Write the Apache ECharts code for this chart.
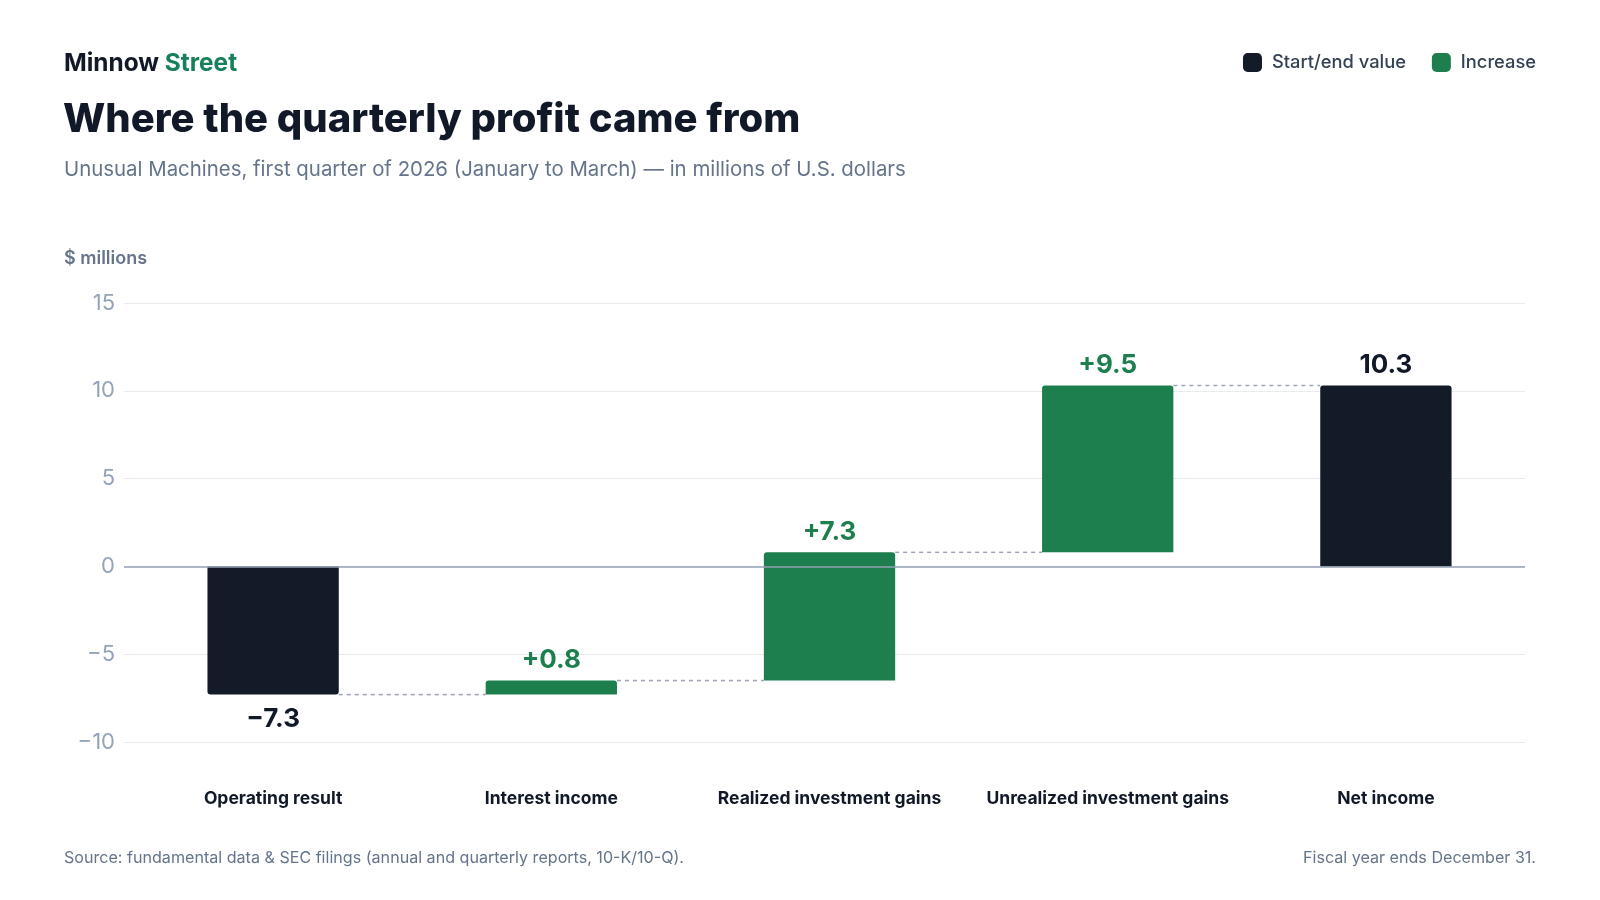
<!DOCTYPE html>
<html lang="en">
<head>
	<meta charset="UTF-8">
	<title>Where the quarterly profit came from</title>
	<script src="https://cdn.jsdelivr.net/npm/echarts@6/dist/echarts.min.js"></script>
	<style>
		* { margin: 0; padding: 0; }
		body { background: #fff; }
		#container { width: 1600px; height: 900px; }
	</style>
</head>
<body>
<div id="container"></div>
<script type="text/javascript">
	var categories = ['Operating result', 'Interest income', 'Realized investment gains', 'Unrealized investment gains', 'Net income'];
	var values = [-7.3, 0.8, 7.3, 9.5, 10.3];
	var kinds = ['total', 'increase', 'increase', 'increase', 'total'];
	var valueLabels = ['\u22127.3', '+0.8', '+7.3', '+9.5', '10.3'];
	var yTicks = [-10, -5, 0, 5, 10, 15];
	var catTicks = [0, 1, 2, 3, 4];

	var FONT = 'Inter, "Noto Sans", sans-serif';
	var DARK = '#131a28';
	var GREEN = '#1d7f4e';
	var BAR = 0.472; // bar width as share of one category step

	// running totals -> floating bar [index, low, high, negative?]
	var totalData = [], increaseData = [], steps = [];
	var run = 0;
	for (var i = 0; i < values.length; i++) {
		var lo, hi;
		if (kinds[i] === 'total') {
			lo = Math.min(0, values[i]);
			hi = Math.max(0, values[i]);
			run = values[i];
		} else {
			lo = run;
			hi = run + values[i];
			run = hi;
		}
		var item = [i, lo, hi, values[i] < 0 ? 1 : 0];
		if (kinds[i] === 'total') totalData.push(item); else increaseData.push(item);
		if (i < values.length - 1) steps.push([i, run]);
	}

	function barRender(color, labelColor) {
		return function (params, api) {
			var idx = api.value(0);
			var p1 = api.coord([idx, api.value(1)]);
			var p2 = api.coord([idx, api.value(2)]);
			var bw = api.size([1, 0])[0] * BAR;
			var neg = api.value(3) === 1;
			var top = Math.min(p1[1], p2[1]), bot = Math.max(p1[1], p2[1]);
			return {
				type: 'group',
				children: [{
					type: 'rect',
					shape: { x: p1[0] - bw / 2, y: top, width: bw, height: bot - top, r: neg ? [0, 0, 3, 3] : [3, 3, 0, 0] },
					style: { fill: color }
				}, {
					type: 'text',
					x: p1[0],
					y: neg ? bot + 12 : top - 7.5,
					style: {
						text: valueLabels[idx],
						fill: labelColor,
						font: 'bold 26px ' + FONT,
						align: 'center',
						verticalAlign: neg ? 'top' : 'bottom'
					}
				}]
			};
		};
	}

	var myChart = echarts.init(document.getElementById('container'));

	var option = {
		backgroundColor: '#fff',
		animation: false,
		textStyle: { fontFamily: FONT },
		title: [{
			left: 59, top: 47,
			text: 'Minnow {g|Street}',
			textStyle: {
				fontSize: 24.4, fontWeight: 'bold', color: '#111827', fontFamily: FONT,
				rich: { g: { fontSize: 24.4, fontWeight: 'bold', color: '#17805a', fontFamily: FONT } }
			}
		}, {
			left: 58, top: 95,
			text: 'Where the quarterly profit came from',
			textStyle: { fontSize: 40, fontWeight: 800, color: '#111827', fontFamily: FONT }
		}, {
			left: 59, top: 155,
			text: 'Unusual Machines, first quarter of 2026 (January to March) \u2014 in millions of U.S. dollars',
			textStyle: { fontSize: 20.4, fontWeight: 'normal', color: '#64748b', fontFamily: FONT }
		}, {
			left: 59, top: 245,
			text: '$ millions',
			textStyle: { fontSize: 18, fontWeight: 600, color: '#64748b', fontFamily: FONT }
		}, {
			left: 59, top: 845,
			text: 'Source: fundamental data & SEC filings (annual and quarterly reports, 10-K/10-Q).',
			textStyle: { fontSize: 16.1, fontWeight: 'normal', color: '#64748b', fontFamily: FONT }
		}, {
			right: 59, top: 845,
			text: 'Fiscal year ends December 31.',
			textStyle: { fontSize: 16.1, fontWeight: 'normal', color: '#64748b', fontFamily: FONT }
		}],
		legend: {
			right: 59, top: 48,
			icon: 'roundRect',
			itemWidth: 19, itemHeight: 19,
			itemGap: 26,
			textStyle: { fontSize: 18.3, fontWeight: 500, color: '#334155', fontFamily: FONT, padding: [0, 0, 0, 5] },
			data: ['Start/end value', 'Increase'],
			selectedMode: false
		},
		grid: { left: 124, right: 75, top: 303, bottom: 158 },
		// value axis over category indices so the gridlines reach a little past the first band
		xAxis: {
			type: 'value',
			min: -0.536, max: 4.5,
			axisLine: { show: false },
			axisTick: { show: false },
			splitLine: { show: false },
			axisLabel: {
				customValues: catTicks,
				margin: 48,
				fontSize: 17.5, fontWeight: 'bold', color: '#111827', fontFamily: FONT,
				formatter: function (v) { return categories[Math.round(v)] || ''; }
			}
		},
		yAxis: {
			type: 'value',
			min: yTicks[0], max: yTicks[yTicks.length - 1], interval: 5,
			axisLine: { show: false },
			axisTick: { show: false },
			axisLabel: {
				margin: 9,
				fontSize: 22, color: '#94a3b8', fontFamily: FONT,
				formatter: function (v) { return v < 0 ? '\u2212' + Math.abs(v) : String(v); }
			},
			splitLine: { lineStyle: { color: '#e8eaee', width: 1.2 } }
		},
		series: [{
			name: 'Start/end value',
			type: 'custom',
			itemStyle: { color: DARK },
			renderItem: barRender(DARK, '#111827'),
			encode: { x: 0, y: [1, 2] },
			data: totalData,
			z: 3
		}, {
			name: 'Increase',
			type: 'custom',
			itemStyle: { color: GREEN },
			renderItem: barRender(GREEN, GREEN),
			encode: { x: 0, y: [1, 2] },
			data: increaseData,
			z: 3
		}, {
			name: 'connectors',
			type: 'custom',
			renderItem: function (params, api) {
				var idx = api.value(0);
				var a = api.coord([idx, api.value(1)]);
				var b = api.coord([idx + 1, api.value(1)]);
				var bw = api.size([1, 0])[0] * BAR;
				return {
					type: 'line',
					shape: { x1: a[0] + bw / 2, y1: a[1], x2: b[0] - bw / 2, y2: b[1] },
					style: { stroke: '#9ca3b4', lineWidth: 1.5, lineDash: [4, 4] }
				};
			},
			encode: { x: 0, y: 1 },
			data: steps,
			silent: true,
			z: 2
		}, {
			name: 'zero',
			type: 'line',
			data: [],
			silent: true,
			markLine: {
				symbol: 'none',
				silent: true,
				label: { show: false },
				lineStyle: { color: '#94a0b4', width: 1.6, type: 'solid' },
				data: [{ yAxis: 0 }]
			},
			z: 1
		}]
	};

	myChart.setOption(option);
</script>
</body>
</html>
